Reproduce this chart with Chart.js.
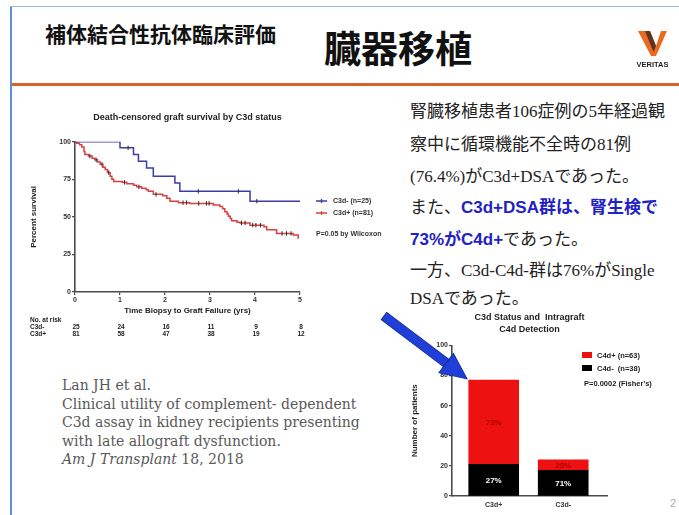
<!DOCTYPE html>
<html lang="ja">
<head>
<meta charset="utf-8">
<title>補体結合性抗体臨床評価 臓器移植</title>
<script src="https://cdn.jsdelivr.net/npm/chart.js@4.4.1/dist/chart.umd.min.js"></script>
<style>
  html, body { margin: 0; padding: 0; }
  body { width: 679px; height: 515px; overflow: hidden; background: #fff; position: relative;
         font-family: "Liberation Sans", Arial, sans-serif; }
  .abs { position: absolute; }
  #frameLeft { left: 10px; top: 6px; width: 2px; height: 509px; background: #5f8fd2; }
  #frameTop { left: 10px; top: 6px; width: 669px; height: 1px; background: #9bb5dc; }
  #rule { left: 12px; top: 83px; width: 667px; height: 3px; background: #d8622a; }
  #head1 { left: 45px; top: 22px; font: bold 21px/22px "Noto Sans CJK JP", sans-serif; color: #111; white-space: nowrap; }
  #head2 { left: 324px; top: 27px; font: bold 37px/40px "Noto Sans CJK JP", sans-serif; color: #111; white-space: nowrap; }
  .jp { font: 17px/20px "Liberation Serif", "Noto Sans CJK JP", serif; color: #222; white-space: nowrap; left: 410px; }
  .hl { font-family: "Liberation Sans", "Noto Sans CJK JP", sans-serif; font-weight: bold; color: #2222c4; }
  #cite { left: 62px; top: 376px; font: 14px/18.5px "DejaVu Serif", serif; color: #595959; white-space: nowrap; }
  #pageNo { left: 670px; top: 496px; font: 11px/14px "Liberation Sans", sans-serif; color: #aaa; }
  canvas { position: absolute; }
  #km { left: 20px; top: 100px; }
  #bars { left: 400px; top: 305px; }
  svg { position: absolute; left: 0; top: 0; }
</style>
</head>
<body>
<div id="frameLeft" class="abs"></div>
<div id="frameTop" class="abs"></div>
<div id="rule" class="abs"></div>
<div id="head1" class="abs">補体結合性抗体臨床評価</div>
<div id="head2" class="abs">臓器移植</div>

<div class="abs jp" style="top:102px">腎臓移植患者106症例の5年経過観</div>
<div class="abs jp" style="top:135px">察中に循環機能不全時の81例</div>
<div class="abs jp" style="top:167px">(76.4%)がC3d+DSAであった。</div>
<div class="abs jp" style="top:198px">また、<span class="hl">C3d+DSA群は、腎生検で</span></div>
<div class="abs jp" style="top:230px"><span class="hl">73%がC4d+</span>であった。</div>
<div class="abs jp" style="top:261px">一方、C3d-C4d-群は76%がSingle</div>
<div class="abs jp" style="top:289px">DSAであった。</div>

<div id="cite" class="abs">Lan JH et al.<br>Clinical utility of complement- dependent<br>C3d assay in kidney recipients presenting<br>with late allograft dysfunction.<br><i>Am J Transplant</i> 18, 2018</div>
<div id="pageNo" class="abs">2</div>

<canvas id="km" width="380" height="245"></canvas>
<canvas id="bars" width="279" height="210"></canvas>

<svg width="679" height="515" viewBox="0 0 679 515">
  <!-- pointer toward the C3d+ bar -->
  <g transform="translate(384,316) rotate(37.1)">
    <rect x="0" y="-4.5" width="80" height="9" fill="#1f3fd8" stroke="#132c9e" stroke-width="1"/>
    <polygon points="78,-12 104,0 78,12" fill="#1f3fd8" stroke="#132c9e" stroke-width="1"/>
  </g>
  <!-- VERITAS mark -->
  <polygon points="638,31 650,31 656,46 661,31 667,31 656,56 651,56" fill="#ec6a1f"/>
  <polygon points="645,31 650,31 656,46 653.5,52" fill="#5b3424"/>
  <text x="652.5" y="67" text-anchor="middle" font-family="Liberation Sans Narrow, Liberation Sans, sans-serif" font-weight="bold" font-size="7.5" fill="#222">VERITAS</text>
</svg>

<script>
// ---- Kaplan–Meier data (years, % surviving) ----
const negTimes = [0, 1.00, 1.30, 1.41, 1.59, 1.74, 2.22, 2.33, 3.89, 5.00];
const negSurv  = [100, 96, 91.5, 87, 82.5, 77, 72.5, 67, 60.5, 60.5];
const posTimes = [0, 0.04, 0.10, 0.15, 0.20, 0.22, 0.30, 0.38, 0.44, 0.50, 0.56,
                  0.62, 0.67, 0.72, 0.78, 0.82, 0.86, 1.05, 1.15, 1.30, 1.37,
                  1.48, 1.58, 1.63, 1.74, 1.95, 2.04, 2.11, 2.30, 2.55, 3.07,
                  3.22, 3.28, 3.33, 3.38, 3.41, 3.45, 3.48, 3.60, 3.67, 3.89,
                  4.20, 4.26, 4.48, 4.85, 4.96];
const posSurv  = [100, 99, 98, 96.5, 93.5, 91.5, 90.5, 89, 88, 86.5, 85,
                  83, 81.5, 79.5, 77, 75, 73.5, 73, 72, 71, 70,
                  69, 68, 67, 65, 64, 62.5, 60.5, 59.5, 59, 58,
                  57, 55.5, 53.5, 52, 50.5, 49, 47.5, 46.5, 46, 44.5,
                  43.5, 41.5, 39, 38, 35.5];
// censored observations
const negCensorT = [1.18, 2.74, 3.63, 4.04];
const negCensorS = [96, 67, 67, 60.5];
const posCensorT = [0.33, 0.47, 0.60, 0.75, 1.10, 1.42, 1.80, 2.40, 2.48, 2.75,
                    2.92, 2.98, 3.70, 3.78, 3.95, 4.02, 4.12, 4.60, 4.70, 4.80];
const posCensorS = [90.5, 88, 85, 79.5, 73, 70, 65, 59.5, 59.5, 59,
                    59, 59, 46, 46, 44.5, 44.5, 44.5, 39, 39, 39];
const kmYearTicks = [0, 1, 2, 3, 4, 5];
const kmPctTicks = [0, 25, 50, 75, 100];
const kmSeries = ['C3d- (n=25)', 'C3d+ (n=81)'];
const riskNeg = [25, 24, 16, 11, 9, 8];
const riskPos = [81, 58, 47, 38, 19, 12];

// ---- C4d detection by C3d group (number of patients) ----
const groups = ['C3d+', 'C3d-'];
const c4dPos = [56, 7];
const c4dNeg = [21, 17];
const countTicks = [0, 20, 40, 60, 80, 100];

const SANS = "'Liberation Sans', Arial, sans-serif";
Chart.defaults.font.family = SANS;
Chart.defaults.color = '#333';
const BLUE = '#3c3ca6';
const RED = '#d9403f';
const AXIS = '#4a4a4a';

const pts = (xs, ys) => xs.map((x, i) => ({ x, y: ys[i] }));

// Legend, p-value and numbers-at-risk table for the survival plot
const kmExtras = {
  id: 'kmExtras',
  afterDraw(chart) {
    const { ctx } = chart;
    const xs = chart.scales.x;
    ctx.save();
    ctx.textBaseline = 'middle';
    ctx.font = `bold 6.5px ${SANS}`;
    ctx.fillStyle = '#222';
    ctx.textAlign = 'left';
    ctx.fillText('No. at risk', 10, 220);
    ctx.fillText('C3d-', 10, 227.5);
    ctx.fillText('C3d+', 10, 234.5);
    ctx.textAlign = 'center';
    kmYearTicks.forEach((yr, i) => {
      const px = xs.getPixelForValue(yr) + 1;
      ctx.fillText(String(riskNeg[i]), px, 227.5);
      ctx.fillText(String(riskPos[i]), px, 234.5);
    });
    // legend
    ctx.font = `bold 7px ${SANS}`;
    ctx.textAlign = 'left';
    [[BLUE, kmSeries[0], 101], [RED, kmSeries[1], 113]].forEach(([c, t, y]) => {
      ctx.strokeStyle = c; ctx.lineWidth = 1.3;
      ctx.beginPath(); ctx.moveTo(296, y); ctx.lineTo(307, y);
      ctx.moveTo(301.5, y - 2); ctx.lineTo(301.5, y + 2); ctx.stroke();
      ctx.fillStyle = '#333';
      ctx.fillText(t, 313, y);
    });
    ctx.fillText('P=0.05 by Wilcoxon', 296, 134);
    ctx.restore();
  }
};

new Chart(document.getElementById('km'), {
  type: 'line',
  data: {
    datasets: [
      { label: kmSeries[0], data: pts(negTimes, negSurv), stepped: true, borderColor: BLUE, borderWidth: 1.5, pointRadius: 0, fill: false, order: 2 },
      { label: kmSeries[1], data: pts(posTimes, posSurv), stepped: true, borderColor: RED, borderWidth: 1.5, pointRadius: 0, fill: false, order: 3 },
      { type: 'scatter', data: pts(negCensorT, negCensorS), pointStyle: 'line', rotation: 90, pointRadius: 2.2, borderColor: '#2a2a2a', borderWidth: 1, order: 0 },
      { type: 'scatter', data: pts(posCensorT, posCensorS), pointStyle: 'line', rotation: 90, pointRadius: 2.2, borderColor: '#2a2a2a', borderWidth: 1, order: 1 }
    ]
  },
  options: {
    responsive: false, animation: false, devicePixelRatio: 1,
    layout: { padding: { left: 9, right: 100, top: 0, bottom: 29 } },
    plugins: {
      legend: { display: false }, tooltip: { enabled: false },
      title: { display: true, fullSize: false, text: 'Death-censored graft survival by C3d status',
               font: { size: 9, weight: 'bold' }, color: '#222', padding: { top: 12, bottom: 19 } }
    },
    scales: {
      x: {
        type: 'linear', min: 0, max: 5,
        afterBuildTicks: s => { s.ticks = kmYearTicks.map(v => ({ value: v })); },
        ticks: { font: { size: 7, weight: 'bold' }, color: '#333', padding: 1, maxRotation: 0 },
        grid: { drawOnChartArea: false, drawTicks: true, tickLength: 3, color: AXIS, lineWidth: 1.2 },
        border: { color: AXIS, width: 1.6 },
        title: { display: true, text: 'Time Biopsy to Graft Failure (yrs)', font: { size: 8, weight: 'bold' }, color: '#222', padding: 0 },
        afterFit: s => { s.height = 24; }
      },
      y: {
        min: 0, max: 100,
        afterBuildTicks: s => { s.ticks = kmPctTicks.map(v => ({ value: v })); },
        ticks: { font: { size: 7, weight: 'bold' }, color: '#333', padding: 1 },
        grid: { drawOnChartArea: false, drawTicks: true, tickLength: 3, color: AXIS, lineWidth: 1.2 },
        border: { color: AXIS, width: 1.6 },
        title: { display: true, text: 'Percent survival', font: { size: 8, weight: 'bold' }, color: '#222', padding: 0 },
        afterFit: s => { s.width = 46; }
      }
    }
  },
  plugins: [kmExtras]
});

// Percent labels inside the stacked bars plus the legend block
const barExtras = {
  id: 'barExtras',
  afterDatasetsDraw(chart) {
    const { ctx } = chart;
    const totals = groups.map((g, i) => c4dPos[i] + c4dNeg[i]);
    ctx.save();
    ctx.font = `bold 8px ${SANS}`;
    ctx.textAlign = 'center';
    ctx.textBaseline = 'middle';
    chart.data.datasets.forEach((ds, di) => {
      const meta = chart.getDatasetMeta(di);
      meta.data.forEach((bar, i) => {
        const v = ds.data[i].y;
        const pct = Math.round(v / totals[i] * 100) + '%';
        ctx.fillStyle = ds.labelColor;
        ctx.fillText(pct, bar.x, (bar.y + bar.base) / 2 + 1);
      });
    });
    // legend
    const sum = a => a.reduce((p, c) => p + c, 0);
    ctx.font = `bold 7.5px ${SANS}`;
    ctx.textAlign = 'left';
    ctx.fillStyle = '#ee1111'; ctx.fillRect(182, 47, 10, 6);
    ctx.fillStyle = '#000'; ctx.fillRect(182, 60, 10, 6);
    ctx.fillStyle = '#222';
    ctx.fillText(`C4d+ (n=${sum(c4dPos)})`, 197, 50.5);
    ctx.fillText(`C4d-  (n=${sum(c4dNeg)})`, 197, 63.5);
    ctx.fillText("P=0.0002 (Fisher's)", 184, 79);
    ctx.restore();
  }
};

new Chart(document.getElementById('bars'), {
  type: 'bar',
  data: {
    datasets: [
      { label: 'C4d-', data: pts([0, 1], c4dNeg), backgroundColor: '#000', barThickness: 50, labelColor: '#fff' },
      { label: 'C4d+', data: pts([0, 1], c4dPos), backgroundColor: '#ee1111', barThickness: 50, labelColor: '#b00000' }
    ]
  },
  options: {
    responsive: false, animation: false, devicePixelRatio: 1,
    layout: { padding: { left: 10, right: 72, top: 0, bottom: 0 } },
    plugins: {
      legend: { display: false }, tooltip: { enabled: false },
      title: { display: true, fullSize: false, text: ['C3d Status and  Intragraft', 'C4d Detection'],
               font: { size: 9, weight: 'bold', lineHeight: 1.35 }, color: '#222', padding: { top: 6, bottom: 10 } }
    },
    scales: {
      x: {
        type: 'linear', stacked: true, min: -0.6, max: 1.63, offset: false,
        afterBuildTicks: s => { s.ticks = groups.map((g, i) => ({ value: i })); },
        ticks: { callback: v => groups[v] ?? '', font: { size: 7, weight: 'bold' }, color: '#333', padding: 5, maxRotation: 0 },
        grid: { offset: false, drawOnChartArea: false, drawTicks: false, color: 'rgba(0,0,0,0)' },
        border: { color: AXIS, width: 1.6 },
        afterFit: s => { s.height = 19; }
      },
      y: {
        stacked: true, min: 0, max: 100,
        afterBuildTicks: s => { s.ticks = countTicks.map(v => ({ value: v })); },
        ticks: { font: { size: 7, weight: 'bold' }, color: '#333', padding: 1 },
        grid: { drawOnChartArea: false, drawTicks: true, tickLength: 3, color: AXIS, lineWidth: 1.2 },
        border: { color: AXIS, width: 1.6 },
        title: { display: true, text: 'Number of patients', font: { size: 8, weight: 'bold' }, color: '#222', padding: 0 },
        afterFit: s => { s.width = 42; }
      }
    }
  },
  plugins: [barExtras]
});
</script>
</body>
</html>
